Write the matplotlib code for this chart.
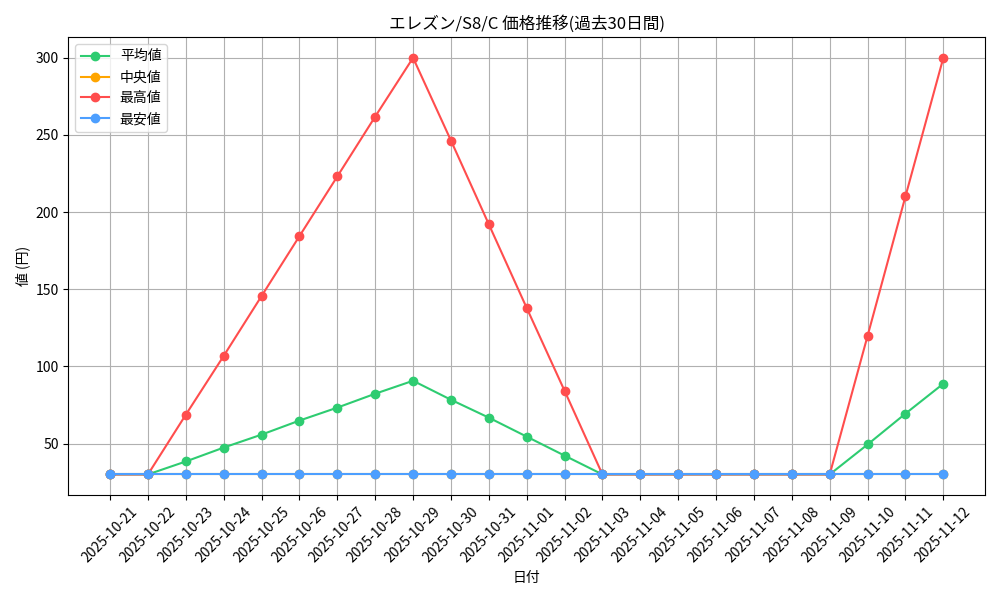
import matplotlib
matplotlib.use("Agg")
import matplotlib.pyplot as plt

plt.rcParams['font.family'] = ['Noto Sans CJK JP', 'DejaVu Sans']

dates = ['2025-10-21', '2025-10-22', '2025-10-23', '2025-10-24', '2025-10-25',
         '2025-10-26', '2025-10-27', '2025-10-28', '2025-10-29', '2025-10-30',
         '2025-10-31', '2025-11-01', '2025-11-02', '2025-11-03', '2025-11-04',
         '2025-11-05', '2025-11-06', '2025-11-07', '2025-11-08', '2025-11-09',
         '2025-11-10', '2025-11-11', '2025-11-12']
avg_prices = [30, 30, 38.4, 47.4, 55.8, 64.9, 73.3, 82.3, 90.7, 78.4, 66.8, 54.5,
              42.2, 30, 30, 30, 30, 30, 30, 30, 49.4, 69.4, 88.8]
median_prices = [30] * 23
max_prices = [30, 30, 68.7, 106.8, 145.6, 184.4, 223.1, 261.9, 300, 246.4, 192.1,
              137.9, 84.2, 30, 30, 30, 30, 30, 30, 30, 119.8, 210.2, 300]
min_prices = [30] * 23


def main():
    fig, ax = plt.subplots(figsize=(10, 6), dpi=100)
    ax.plot(dates, avg_prices, marker='o', color='#2ecc71', label='平均値')
    ax.plot(dates, median_prices, marker='o', color='#ffa500', label='中央値')
    ax.plot(dates, max_prices, marker='o', color='#ff4d4d', label='最高値')
    ax.plot(dates, min_prices, marker='o', color='#4d9fff', label='最安値')
    ax.set_title('エレズン/S8/C 価格推移(過去30日間)', fontsize=12)
    ax.set_xlabel('日付')
    ax.set_ylabel('値 (円)')
    ax.legend(loc='upper left')
    ax.grid(True)
    plt.xticks(rotation=45)
    fig.tight_layout()
    fig.savefig('out.png')


if __name__ == "__main__":
    main()
